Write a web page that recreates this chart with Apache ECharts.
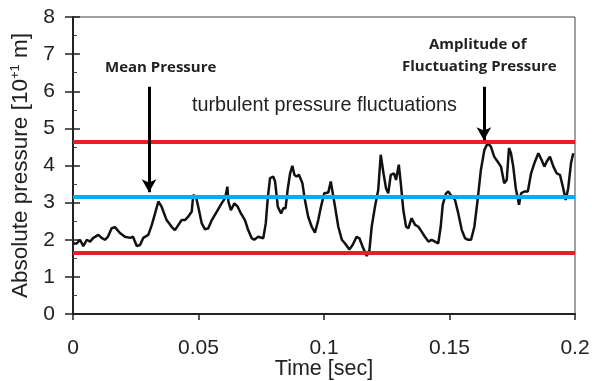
<!DOCTYPE html>
<html>
<head>
<meta charset="utf-8">
<script src="https://cdn.jsdelivr.net/npm/echarts@6/dist/echarts.min.js"></script>
<style>
  html, body { margin: 0; padding: 0; background: #fff; }
  #chart { width: 592px; height: 381px; }
</style>
</head>
<body>
<div id="chart"></div>
<script>
// time [sec] and pressure
var timeSec = [0, 0.0015, 0.0028, 0.0041, 0.0055, 0.0068, 0.0081, 0.0101, 0.0114, 0.0127,
    0.0139, 0.0154, 0.0167, 0.0187, 0.0207, 0.0227, 0.0239, 0.0254, 0.0267, 0.0280,
    0.0300, 0.0314, 0.0327, 0.0340, 0.0353, 0.0373, 0.0393, 0.0406, 0.0420, 0.0433,
    0.0446, 0.0459, 0.0473, 0.0479, 0.0490, 0.0499, 0.0513, 0.0526, 0.0539, 0.0553,
    0.0573, 0.0592, 0.0606, 0.0615, 0.0619, 0.0629, 0.0643, 0.0656, 0.0669, 0.0685,
    0.0698, 0.0712, 0.0722, 0.0738, 0.0758, 0.0768, 0.0776, 0.0785, 0.0798, 0.0805,
    0.0816, 0.0829, 0.0838, 0.0847, 0.0855, 0.0865, 0.0874, 0.0882, 0.0891, 0.0900,
    0.0914, 0.0924, 0.0937, 0.0951, 0.0964, 0.0977, 0.0988, 0.1001, 0.1017, 0.1027,
    0.1035, 0.1044, 0.1057, 0.1071, 0.1084, 0.1101, 0.1114, 0.1130, 0.1141, 0.1154,
    0.1170, 0.1181, 0.1190, 0.1203, 0.1216, 0.1226, 0.1237, 0.1247, 0.1256, 0.1266,
    0.1279, 0.1287, 0.1298, 0.1306, 0.1316, 0.1327, 0.1336, 0.1349, 0.1363, 0.1376,
    0.1389, 0.1402, 0.1416, 0.1429, 0.1442, 0.1455, 0.1465, 0.1473, 0.1486, 0.1495,
    0.1506, 0.1522, 0.1535, 0.1549, 0.1562, 0.1575, 0.1586, 0.1599, 0.1612, 0.1625,
    0.1639, 0.1652, 0.1665, 0.1678, 0.1692, 0.1705, 0.1718, 0.1728, 0.1737, 0.1745,
    0.1754, 0.1764, 0.1777, 0.1785, 0.1798, 0.1812, 0.1825, 0.1838, 0.1854, 0.1867,
    0.1878, 0.1887, 0.1900, 0.1914, 0.1927, 0.1940, 0.1953, 0.1963, 0.1973, 0.1984,
    0.1993];
var pressure = [1.9, 1.9, 2.0, 1.83, 2.0, 1.95, 2.05, 2.13, 2.05, 2.0,
    2.08, 2.31, 2.34, 2.18, 2.08, 2.05, 2.08, 1.83, 1.86, 2.05,
    2.13, 2.4, 2.71, 3.03, 2.89, 2.53, 2.35, 2.26, 2.4, 2.53,
    2.53, 2.62, 2.76, 3.2, 3.16, 2.89, 2.44, 2.28, 2.31, 2.53,
    2.76, 2.98, 3.12, 3.43, 3.03, 2.8, 2.98, 2.89, 2.71, 2.53,
    2.26, 2.04, 2.0, 2.08, 2.04, 2.44, 3.12, 3.66, 3.7, 3.57,
    2.89, 2.71, 2.85, 2.85, 3.34, 3.79, 3.99, 3.75, 3.7, 3.75,
    3.52, 3.07, 2.62, 2.35, 2.19, 2.53, 2.89, 3.25, 3.27, 3.57,
    3.25, 2.89, 2.35, 2.0, 1.9, 1.74, 1.86, 2.08, 2.04, 1.81,
    1.56, 1.72, 2.35, 2.89, 3.34, 4.29, 3.79, 3.39, 3.25, 3.75,
    3.79, 3.61, 4.02, 3.52, 2.8, 2.35, 2.31, 2.58, 2.4, 2.35,
    2.22, 2.08, 1.95, 2.0, 1.95, 1.9, 2.35, 2.94, 3.25, 3.3,
    3.2, 3.07, 2.71, 2.26, 2.04, 2.0, 2.0, 2.35, 3.07, 3.88,
    4.42, 4.6, 4.51, 4.24, 4.1, 3.97, 3.52, 3.61, 4.47, 4.33,
    3.97, 3.39, 2.94, 3.25, 3.3, 3.3, 3.79, 4.06, 4.33, 4.15,
    3.97, 4.1, 4.24, 3.97, 3.79, 3.75, 3.39, 3.07, 3.39, 4.06,
    4.33];

var meanLevel = 3.15;
var upperLevel = 4.65;
var lowerLevel = 1.64;
// arrows: [x, yFrom, yTo]
var meanArrow = [0.0303, 6.12, 3.28];
var ampArrow = [0.1637, 6.12, 4.68];

var xTicks = [0, 0.05, 0.1, 0.15, 0.2];

var seriesData = timeSec.map(function (t, i) { return [t, pressure[i]]; });

var chart = echarts.init(document.getElementById('chart'));
var option = {
    animation: false,
    grid: {
        left: 73, right: 17, top: 17, bottom: 67,
        outerBoundsMode: 'none',
        containLabel: false,
        show: true, borderColor: '#444', borderWidth: 1
    },
    xAxis: {
        type: 'value',
        min: 0, max: 0.2, interval: 0.05,
        name: 'Time [sec]',
        nameLocation: 'middle',
        nameGap: 44,
        nameMoveOverlap: false,
        nameTextStyle: { fontFamily: 'Liberation Sans', fontSize: 21.5, color: '#222' },
        axisLine: { lineStyle: { color: '#222', width: 2 } },
        axisTick: { length: 6, lineStyle: { color: '#222', width: 1.5 } },
        axisLabel: {
            fontFamily: 'Liberation Sans', fontSize: 21, color: '#222', margin: 24,
            formatter: function (v) { return xTicks.indexOf(Math.round(v * 100) / 100) >= 0 ? String(Math.round(v * 100) / 100) : ''; }
        },
        splitLine: { show: false }
    },
    yAxis: [
        {
            type: 'value',
            min: 0, max: 8, interval: 1,
            name: '{n|Absolute pressure [10}{s|+1}{n| m]}',
            nameLocation: 'middle',
            nameGap: 32,
            nameTextStyle: {
                rich: {
                    n: { fontFamily: 'Liberation Sans', fontSize: 22.5, color: '#222' },
                    s: { fontFamily: 'Liberation Sans', fontSize: 13, color: '#222', verticalAlign: 'top', padding: [0, 0, 10, 0] }
                }
            },
            axisLine: { lineStyle: { color: '#222', width: 2 } },
            axisTick: { length: 8, lineStyle: { color: '#222', width: 1.5 } },
            axisLabel: { fontFamily: 'Liberation Sans', fontSize: 21, color: '#222', margin: 18 },
            splitLine: { show: false }
        },
        {
            // inward ticks and half-step minor ticks on the same left axis
            type: 'value',
            position: 'left',
            offset: 0,
            min: 0, max: 8, interval: 1,
            axisLine: { show: false },
            axisTick: { show: true, inside: true, length: 7, lineStyle: { color: '#222', width: 1.5 } },
            minorTick: { show: true, splitNumber: 2, length: 4, lineStyle: { color: '#444' } },
            axisLabel: { show: false },
            splitLine: { show: false }
        }
    ],
    series: [
        {
            type: 'line',
            data: seriesData,
            showSymbol: false,
            lineStyle: { color: '#111', width: 2.5 },
            z: 2
        },
        {
            type: 'line',
            data: [],
            z: 3,
            markLine: {
                silent: true,
                symbol: ['none', 'none'],
                label: { show: false },
                data: [
                    { yAxis: upperLevel, lineStyle: { color: '#ee1c24', width: 4, type: 'solid' } },
                    { yAxis: lowerLevel, lineStyle: { color: '#ee1c24', width: 4, type: 'solid' } },
                    { yAxis: meanLevel, lineStyle: { color: '#00aeef', width: 4, type: 'solid' } }
                ]
            }
        },
        {
            type: 'line',
            data: [],
            z: 4,
            markLine: {
                silent: true,
                symbol: ['none', 'arrow'],
                symbolSize: [11, 13],
                label: { show: false },
                lineStyle: { color: '#000', width: 3, type: 'solid' },
                data: [
                    [{ coord: [meanArrow[0], meanArrow[1]] }, { coord: [meanArrow[0], meanArrow[2]] }],
                    [{ coord: [ampArrow[0], ampArrow[1]] }, { coord: [ampArrow[0], ampArrow[2]] }]
                ]
            }
        }
    ],
    graphic: [
        {
            type: 'text', left: 105, top: 60,
            style: { text: 'Mean Pressure', fontFamily: 'Open Sans', fontWeight: 'bold', fontSize: 15, fill: '#222' }
        },
        {
            type: 'text', left: 192, top: 96,
            style: { text: 'turbulent pressure fluctuations', fontFamily: 'Liberation Sans', fontSize: 19.8, fill: '#222' }
        },
        {
            type: 'text', left: 429, top: 37,
            style: { text: 'Amplitude of', fontFamily: 'Open Sans', fontWeight: 'bold', fontSize: 15, fill: '#222' }
        },
        {
            type: 'text', left: 402, top: 59,
            style: { text: 'Fluctuating Pressure', fontFamily: 'Open Sans', fontWeight: 'bold', fontSize: 15, fill: '#222' }
        }
    ]
};
chart.setOption(option);
</script>
</body>
</html>
